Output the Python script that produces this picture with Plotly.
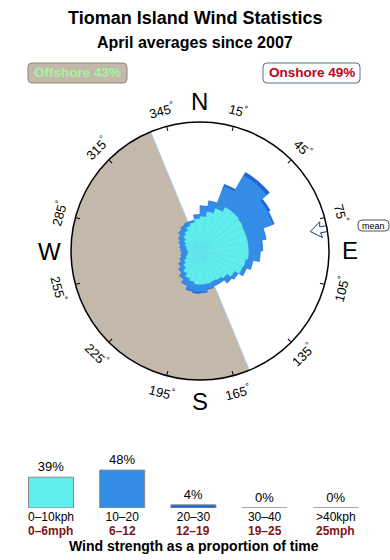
import numpy as np
import plotly.graph_objects as go

W, H = 390, 560

# ---------------- data ----------------
dir_centers = list(range(5, 360, 10))
speed_0_10 = [3.2, 3.7, 4.2, 4.7, 4.7, 4.6, 4.5, 4.5, 4.5, 4.5, 4.3, 4.2,
              3.7, 3.3, 3.1, 3.0, 3.1, 3.1, 3.1, 2.9, 2.7, 2.4, 2.0, 1.7,
              1.4, 1.2, 1.1, 1.2, 1.3, 1.5, 1.7, 2.0, 2.2, 2.5, 2.7, 3.0]
speed_10_20 = [1.0, 1.0, 2.2, 3.4, 3.4, 2.7, 2.7, 1.7, 1.3, 1.1, 0.7, 0.4,
               0.4, 0.6, 0.4, 0.5, 0.5, 0.7, 0.7, 0.8, 0.7, 0.6, 0.6, 0.6,
               0.6, 0.6, 0.6, 0.6, 0.6, 0.6, 0.6, 0.6, 0.6, 0.4, 0.2, 0.4]
speed_20_30 = [0.0, 0.05, 0.2, 0.35, 0.35, 0.25, 0.15, 0.05, 0.05, 0.0, 0.0, 0.0,
               0.0, 0.0, 0.0, 0.0, 0.05, 0.1, 0.15, 0.1, 0.0, 0.0, 0.0, 0.0,
               0.0, 0.0, 0.0, 0.0, 0.0, 0.0, 0.0, 0.0, 0.0, 0.0, 0.0, 0.0]
radial_max = 12

offshore_from, offshore_to = 157.5, 337.5
offshore_pct = 43
onshore_pct = 49
mean_dir = 80

tick_angles = [15, 45, 75, 105, 135, 165, 195, 225, 255, 285, 315, 345]
cardinals = ["N", "E", "S", "W"]
cardinal_angles = [0, 90, 180, 270]

strength_kph = ["0–10kph", "10–20", "20–30", "30–40", ">40kph"]
strength_mph = ["0–6mph", "6–12", "12–19", "19–25", "25mph"]
strength_pct = [39, 48, 4, 0, 0]

# ---------------- styles ----------------
C_CYAN = "#5EEEEC"
C_BLUE = "#348DE6"
C_DARK = "#2264D6"
C_BEIGE = "#C4B8AB"
FONT = "Liberation Sans, Arial, sans-serif"

cx, cy, R = 200, 251, 129
polar_dom_x = [(cx - R) / W, (cx + R) / W]
polar_dom_y = [1 - (cy + R) / H, 1 - (cy - R) / H]


def px(x):
    return x / W


def py(y):
    return 1 - y / H


fig = go.Figure()

# offshore sector
fig.add_trace(go.Barpolar(
    r=[radial_max], theta=[(offshore_from + offshore_to) / 2],
    width=[offshore_to - offshore_from],
    marker=dict(color=C_BEIGE, line=dict(color="#A9CFEF", width=1)),
    hoverinfo="skip", showlegend=False))

c1 = np.array(speed_0_10)
c2 = c1 + np.array(speed_10_20)
c3 = c2 + np.array(speed_20_30)
for rr, col, lc in [(c3, C_DARK, C_DARK), (c2, C_BLUE, C_BLUE), (c1, C_CYAN, "#6FE6EA")]:
    fig.add_trace(go.Barpolar(
        r=rr, theta=dir_centers, width=[10] * len(dir_centers),
        marker=dict(color=col, line=dict(color=lc, width=0.4)),
        hoverinfo="skip", showlegend=False))

# mean arrow (outline), shape defined in pixel offsets along the mean direction
scale = radial_max / R
arrow_uv = [(129, 3), (122, 3), (123, 8), (112, 0), (123, -8), (122, -3), (129, -3), (129, 3)]
ar = [np.hypot(u, v) * scale for u, v in arrow_uv]
at = [mean_dir + np.degrees(np.arctan2(v, u)) for u, v in arrow_uv]
fig.add_trace(go.Scatterpolar(
    r=ar, theta=at, mode="lines", fill="toself", fillcolor="white",
    line=dict(color="#1B3F7A", width=1), hoverinfo="skip", showlegend=False))

# bottom bars
xs = list(range(len(strength_pct)))
fig.add_trace(go.Bar(
    x=xs, y=strength_pct, width=0.632,
    marker=dict(color=[C_CYAN, C_BLUE, C_DARK, C_DARK, C_DARK],
                line=dict(color="#8A8A8A", width=1)),
    text=[f"{v}%" for v in strength_pct], textposition="outside",
    textfont=dict(size=13, color="black"), cliponaxis=False,
    hoverinfo="skip", showlegend=False, xaxis="x", yaxis="y"))

fig.update_layout(
    width=W, height=H, autosize=False,
    margin=dict(l=0, r=0, t=0, b=0),
    paper_bgcolor="white", plot_bgcolor="white",
    font=dict(family=FONT, color="black"),
    polar=dict(
        domain=dict(x=polar_dom_x, y=polar_dom_y),
        bgcolor="white", barmode="overlay", hole=0,
        radialaxis=dict(visible=False, range=[0, radial_max]),
        angularaxis=dict(rotation=90, direction="clockwise", showgrid=False,
                         showline=True, linecolor="black", linewidth=1.5,
                         ticks="inside", ticklen=4, tickcolor="black",
                         tickmode="array", tickvals=tick_angles,
                         showticklabels=False),
    ),
    xaxis=dict(domain=[0, 1], range=[-0.716, 4.761], showgrid=False,
               zeroline=False, showline=False, ticks="",
               tickmode="array", tickvals=xs, ticktext=strength_kph,
               tickfont=dict(size=12, color="black"),
               fixedrange=True),
    yaxis=dict(domain=[py(508), py(428)], range=[0, 101.3], visible=False,
               fixedrange=True),
    showlegend=False,
)

ann = []
# titles
ann.append(dict(text="<b>Tioman Island Wind Statistics</b>", x=0.5, y=py(18),
                font=dict(size=18)))
ann.append(dict(text="<b>April averages since 2007</b>", x=0.5, y=py(43),
                font=dict(size=16)))
ann.append(dict(text="<b>Wind strength as a proportion of time</b>", x=px(194), y=py(546),
                font=dict(size=14)))
# offshore / onshore
ann.append(dict(text=f"<b>Offshore {offshore_pct}%</b>", x=px(77.5), y=py(73),
                font=dict(size=13.5, color="#A6F2A0")))
ann.append(dict(text=f"<b>Onshore {onshore_pct}%</b>", x=px(311.5), y=py(73),
                font=dict(size=13.5, color="#C4001C")))
# degree labels
for b in tick_angles:
    rl = 146
    x = cx + rl * np.sin(np.radians(b))
    y = cy - rl * np.cos(np.radians(b))
    if 90 < b < 270:
        ta = b - 180
    else:
        ta = b if b < 90 else b - 360
    ann.append(dict(text=f"{b}<sup>°</sup>", x=px(x), y=py(y), textangle=ta,
                    font=dict(size=13)))
# cardinals
for lab, b in zip(cardinals, cardinal_angles):
    rl = 150
    x = cx + rl * np.sin(np.radians(b))
    y = cy - rl * np.cos(np.radians(b))
    ann.append(dict(text=lab, x=px(x), y=py(y), font=dict(size=24)))
# mean label
ann.append(dict(text="mean", x=px(373.5), y=py(225.5), font=dict(size=9)))
# mph labels
for i, t in enumerate(strength_mph):
    ann.append(dict(text=f"<b>{t}</b>", x=i, xref="x", y=py(530.5),
                    font=dict(size=12, color="#7F1414")))

for a in ann:
    a.setdefault("xref", "paper")
    a.setdefault("yref", "paper")
    a.update(showarrow=False, xanchor="center", yanchor="middle")
fig.update_layout(annotations=ann)


def rrect(x0, y0, x1, y1, r):
    pts = f"M{px(x0 + r)},{py(y0)} L{px(x1 - r)},{py(y0)} Q{px(x1)},{py(y0)} {px(x1)},{py(y0 + r)} " \
          f"L{px(x1)},{py(y1 - r)} Q{px(x1)},{py(y1)} {px(x1 - r)},{py(y1)} " \
          f"L{px(x0 + r)},{py(y1)} Q{px(x0)},{py(y1)} {px(x0)},{py(y1 - r)} " \
          f"L{px(x0)},{py(y0 + r)} Q{px(x0)},{py(y0)} {px(x0 + r)},{py(y0)} Z"
    return pts


shapes = [
    dict(type="path", path=rrect(28, 63, 127, 83, 4), xref="paper", yref="paper",
         fillcolor=C_BEIGE, line=dict(color="#8C857D", width=1), layer="below"),
    dict(type="path", path=rrect(263, 63, 360, 83, 4), xref="paper", yref="paper",
         fillcolor="white", line=dict(color="#56708F", width=1), layer="below"),
    dict(type="path", path=rrect(358, 220, 389, 231, 4), xref="paper", yref="paper",
         fillcolor="white", line=dict(color="#555555", width=1), layer="below"),
]
fig.update_layout(shapes=shapes)

fig.write_html("out.html")
